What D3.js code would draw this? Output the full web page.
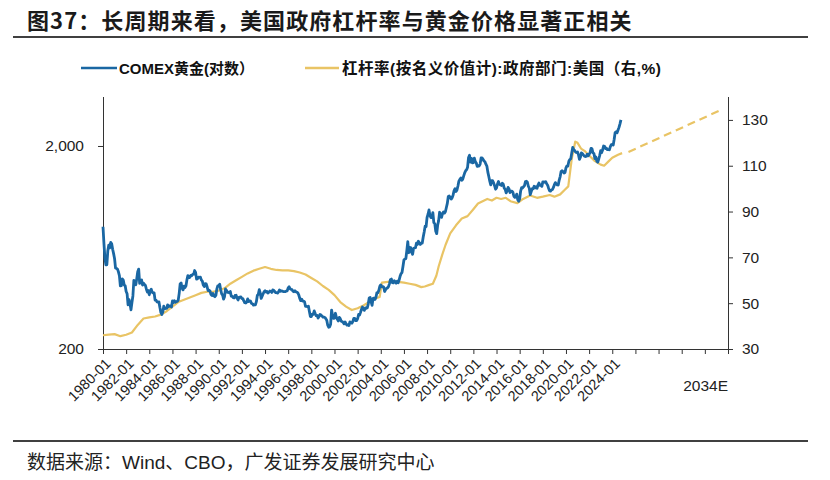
<!DOCTYPE html>
<html><head><meta charset="utf-8">
<script src="https://cdn.jsdelivr.net/npm/d3@7"></script>
<style>body{margin:0;background:#fff}svg{display:block}</style>
</head><body>
<svg id="chart" width="830" height="480"></svg>
<script>
// ---------------- DATA ----------------
const titleText = "图37：长周期来看，美国政府杠杆率与黄金价格显著正相关";
const sourceText = "数据来源：Wind、CBO，广发证券发展研究中心";
const seriesNames = ["COMEX黄金(对数）", "杠杆率(按名义价值计):政府部门:美国（右,%)"];

const goldStartYear = 1980;
// COMEX gold, monthly (USD/oz), Jan 1980 – Oct 2024
const gold1980 = [800,660,560,520,520,610,650,630,670,660,620,590];
const gold1981 = [557,500,499,495,480,460,409,410,443,437,413,410];
const gold1982 = [384,374,330,350,334,312,339,365,436,422,414,444];
const gold1983 = [481,495,421,432,438,413,422,416,411,394,382,388];
const gold1984 = [370,386,394,381,377,378,348,348,341,340,341,320];
const gold1985 = [303,296,304,325,316,317,317,330,323,326,325,322];
const gold1986 = [345,339,346,340,342,343,348,376,418,423,398,391];
const gold1987 = [408,401,409,438,460,450,450,461,460,466,467,487];
const gold1988 = [477,442,444,452,451,452,437,432,413,406,420,419];
const gold1989 = [404,388,390,385,371,367,375,365,362,367,394,409];
const gold1990 = [410,417,393,374,369,352,362,395,389,380,381,378];
const gold1991 = [384,364,363,358,357,367,368,356,349,359,360,361];
const gold1992 = [354,354,345,338,337,341,353,343,345,344,335,334];
const gold1993 = [329,330,330,342,367,372,392,378,355,364,374,383];
const gold1994 = [387,382,384,377,381,386,385,380,391,389,384,379];
const gold1995 = [379,377,382,391,385,387,386,383,383,383,386,387];
const gold1996 = [400,405,396,393,392,385,383,387,383,381,378,369];
const gold1997 = [355,346,352,344,344,341,324,324,323,325,306,289];
const gold1998 = [289,297,296,308,299,292,293,284,289,296,294,291];
const gold1999 = [287,287,286,282,277,262,256,257,265,311,293,283];
const gold2000 = [284,300,286,280,275,286,282,274,273,270,266,272];
const gold2001 = [266,262,263,261,272,270,268,273,283,283,276,276];
const gold2002 = [282,296,294,303,314,322,314,310,319,317,319,333];
const gold2003 = [357,359,341,328,355,356,351,360,379,379,389,407];
const gold2004 = [414,405,406,404,384,392,398,400,406,420,439,442];
const gold2005 = [424,423,434,429,422,431,424,437,456,470,476,510];
const gold2006 = [549,555,557,610,676,596,633,632,598,585,627,629];
const gold2007 = [631,665,655,679,667,655,665,665,712,754,806,803];
const gold2008 = [889,922,968,909,888,889,939,839,829,760,740,816];
const gold2009 = [858,943,924,890,928,946,934,949,996,1043,1127,1134];
const gold2010 = [1118,1095,1113,1148,1205,1232,1193,1215,1271,1343,1370,1391];
const gold2011 = [1356,1372,1424,1474,1510,1529,1572,1756,1800,1665,1739,1652];
const gold2012 = [1656,1743,1675,1649,1586,1596,1594,1630,1745,1747,1721,1688];
const gold2013 = [1671,1627,1593,1487,1414,1343,1287,1348,1349,1316,1275,1225];
const gold2014 = [1244,1300,1336,1299,1288,1279,1311,1296,1239,1222,1176,1201];
const gold2015 = [1251,1227,1179,1198,1199,1181,1131,1117,1125,1159,1086,1068];
const gold2016 = [1097,1200,1246,1242,1260,1276,1337,1341,1326,1267,1238,1151];
const gold2017 = [1192,1234,1231,1267,1246,1260,1237,1283,1315,1280,1284,1265];
const gold2018 = [1331,1331,1325,1335,1303,1282,1238,1202,1199,1215,1221,1250];
const gold2019 = [1291,1320,1300,1286,1284,1359,1413,1500,1510,1495,1471,1480];
const gold2020 = [1560,1597,1592,1683,1715,1732,1847,1968,1922,1901,1866,1858];
const gold2021 = [1867,1808,1718,1760,1850,1834,1807,1785,1775,1776,1821,1788];
const gold2022 = [1817,1856,1948,1937,1849,1837,1733,1765,1681,1665,1726,1798];
const gold2023 = [1898,1855,1913,1999,1992,1943,1951,1918,1917,1916,1985,2031];
const gold2024 = [2034,2024,2159,2331,2351,2326,2399,2470,2571,2690];

// Government leverage ratio (% of GDP): time (decimal year) and value
const levTime = [1980.0,1980.5,1981.0,1981.5,1982.0,1982.5,1983.0,1983.5,1984.0,1984.5,1985.0,1985.5,1986.0,1986.5,1987.0,1987.5,1988.0,1988.5,1989.0,1989.5,
  1990.0,1990.5,1991.0,1991.5,1992.0,1992.5,1993.0,1993.5,1994.0,1994.5,1995.0,1995.5,1996.0,1996.5,1997.0,1997.5,1998.0,1998.5,1999.0,1999.5,
  2000.0,2000.5,2001.0,2001.5,2002.0,2002.5,2003.0,2003.5,2003.9,2004.1,2004.6,2005.0,2005.5,2006.0,2006.5,2007.0,2007.5,2007.8,2008.2,2008.5,
  2008.8,2009.0,2009.3,2009.6,2010.0,2010.5,2011.0,2011.5,2012.0,2012.4,2012.8,2013.2,2013.6,2014.0,2014.4,2014.8,2015.2,2015.8,2016.3,2016.9,
  2017.5,2018.0,2018.6,2019.0,2019.5,2019.9,2020.2,2020.5,2020.8,2021.0,2021.3,2021.6,2022.0,2022.5,2023.0,2023.3,2023.7,2024.0,2024.5,2024.85];
const levValue = [36.0,36.3,36.5,35.6,36.2,37.2,40.5,43.3,43.8,44.2,45.0,46.5,48.5,50.5,51.5,52.5,53.5,54.5,55.0,55.0,
  55.5,56.5,58.5,60.0,61.5,63.0,64.2,65.0,65.8,65.0,64.5,64.3,64.3,64.0,63.4,62.5,61.0,59.5,57.5,55.8,
  53.5,50.5,48.5,47.0,47.8,49.0,50.5,52.0,52.7,59.0,59.3,59.5,59.3,59.0,58.5,58.0,57.0,57.3,58.0,58.5,
  62.0,66.0,71.0,75.5,80.5,84.0,87.0,88.0,91.0,93.5,94.5,95.5,94.8,96.0,95.5,96.0,94.5,93.7,95.5,97.0,
  96.0,96.5,97.2,96.5,97.5,99.5,101.0,113.0,120.5,120.0,117.5,116.5,114.5,112.0,110.5,110.0,112.0,113.5,114.8,115.5];
// Projection (dashed)
const projTime = [2025.4, 2033.5];
const projValue = [116.0, 134.6];

const xTickYears = d3.range(1980, 2035, 2);
const xLabelYears = d3.range(1980, 2025, 2);
const xEndLabel = "2034E";
const leftTicks = [200, 2000];
const rightTicks = [30, 50, 70, 90, 110, 130];

// ---------------- DRAW ----------------
const goldYears = [gold1980,gold1981,gold1982,gold1983,gold1984,gold1985,gold1986,gold1987,gold1988,gold1989,
  gold1990,gold1991,gold1992,gold1993,gold1994,gold1995,gold1996,gold1997,gold1998,gold1999,
  gold2000,gold2001,gold2002,gold2003,gold2004,gold2005,gold2006,gold2007,gold2008,gold2009,
  gold2010,gold2011,gold2012,gold2013,gold2014,gold2015,gold2016,gold2017,gold2018,gold2019,
  gold2020,gold2021,gold2022,gold2023,gold2024];
const goldData = [];
goldYears.forEach((arr, i) => arr.forEach((v, m) => goldData.push({t: goldStartYear + i + m / 12, v})));
const levData = levTime.map((t, i) => ({t, v: levValue[i]}));
const projData = projTime.map((t, i) => ({t, v: projValue[i]}));

const svg = d3.select("#chart");
const L = 103, R = 728, T = 97, B = 349;
const blue = "#1a67a3", gold = "#e9c465";
const latin = "'Liberation Sans', Arial, sans-serif";
const cjk = "'Liberation Sans', 'Noto Sans CJK SC', sans-serif";

const x = d3.scaleLinear().domain([1980, 2034]).range([L, R]);
const yL = d3.scaleLog().domain([200, 3486]).range([B, T]);
const yR = d3.scaleLinear().domain([30, 140]).range([B, T]);

// title
svg.append("text").attr("x", 27).attr("y", 29).text(titleText)
  .attr("font-family", "'Noto Sans CJK SC', sans-serif").attr("font-weight", 700)
  .attr("font-size", 22).attr("letter-spacing", 1.1).attr("fill", "#1a1a1a");
svg.append("line").attr("x1", 13).attr("x2", 808).attr("y1", 37).attr("y2", 37)
  .attr("stroke", "#000").attr("stroke-width", 1.3);

// legend
const leg = [{x0: 81, x1: 117, tx: 119, c: blue, name: seriesNames[0], fs: 15, ls: 0},
             {x0: 305, x1: 339, tx: 342, c: gold, name: seriesNames[1], fs: 15.5, ls: 0.5}];
leg.forEach(d => {
  svg.append("line").attr("x1", d.x0).attr("x2", d.x1).attr("y1", 68).attr("y2", 68)
    .attr("stroke", d.c).attr("stroke-width", 2.5);
  svg.append("text").attr("x", d.tx).attr("y", 73.5).text(d.name)
    .attr("font-family", cjk).attr("font-weight", 700).attr("font-size", d.fs)
    .attr("letter-spacing", d.ls).attr("fill", "#111");
});

// axes
const gx = svg.append("g").attr("transform", `translate(0,${B})`)
  .call(d3.axisBottom(x).tickValues(xTickYears).tickSize(5).tickFormat(""));
gx.select(".domain").attr("d", `M${L - 5},0.5H${R}`);
gx.selectAll("line").attr("stroke", "#333");
gx.select(".domain").attr("stroke", "#333");

const gl = svg.append("g").attr("transform", `translate(${L},0)`)
  .call(d3.axisLeft(yL).tickValues(leftTicks).tickSize(5).tickFormat(d3.format(",")).tickPadding(14));
gl.select(".domain").attr("d", `M0.5,${B}V${T}`).attr("stroke", "#333");
gl.selectAll("line").attr("stroke", "#333");
gl.selectAll("text").attr("font-family", latin).attr("font-size", 15.5).attr("fill", "#222");

const gr = svg.append("g").attr("transform", `translate(${R},0)`)
  .call(d3.axisRight(yR).tickValues(rightTicks).tickSize(5).tickPadding(9));
gr.select(".domain").attr("d", `M0.5,${B}V${T}`).attr("stroke", "#333");
gr.selectAll("line").attr("stroke", "#333");
gr.selectAll("text").attr("font-family", latin).attr("font-size", 15.5).attr("fill", "#222");

// rotated x labels
svg.append("g").selectAll("text").data(xLabelYears).join("text")
  .attr("transform", d => `translate(${x(d) + 5},${B + 12}) rotate(-45)`)
  .attr("text-anchor", "end").attr("dy", "0.35em")
  .attr("font-family", latin).attr("font-size", 14.5).attr("fill", "#222")
  .text(d => `${d}-01`);
svg.append("text").attr("x", R).attr("y", 391).attr("text-anchor", "end")
  .attr("font-family", latin).attr("font-size", 15.5).attr("fill", "#222").text(xEndLabel);

// lines
const goldLine = d3.line().x(d => x(d.t)).y(d => yL(d.v));
const levLine = d3.line().x(d => x(d.t)).y(d => yR(d.v));
svg.append("path").datum(levData).attr("d", levLine)
  .attr("fill", "none").attr("stroke", gold).attr("stroke-width", 2.2).attr("stroke-linejoin", "round");
svg.append("path").datum(projData).attr("d", levLine)
  .attr("fill", "none").attr("stroke", gold).attr("stroke-width", 2.2).attr("stroke-dasharray", "8,5");
svg.append("path").datum(goldData).attr("d", goldLine)
  .attr("fill", "none").attr("stroke", blue).attr("stroke-width", 2.8).attr("stroke-linejoin", "round");

// footer
svg.append("line").attr("x1", 13).attr("x2", 808).attr("y1", 441).attr("y2", 441)
  .attr("stroke", "#000").attr("stroke-width", 1.3);
svg.append("text").attr("x", 27).attr("y", 469).text(sourceText)
  .attr("font-family", cjk).attr("font-size", 19).attr("fill", "#222");
</script>
</body></html>
